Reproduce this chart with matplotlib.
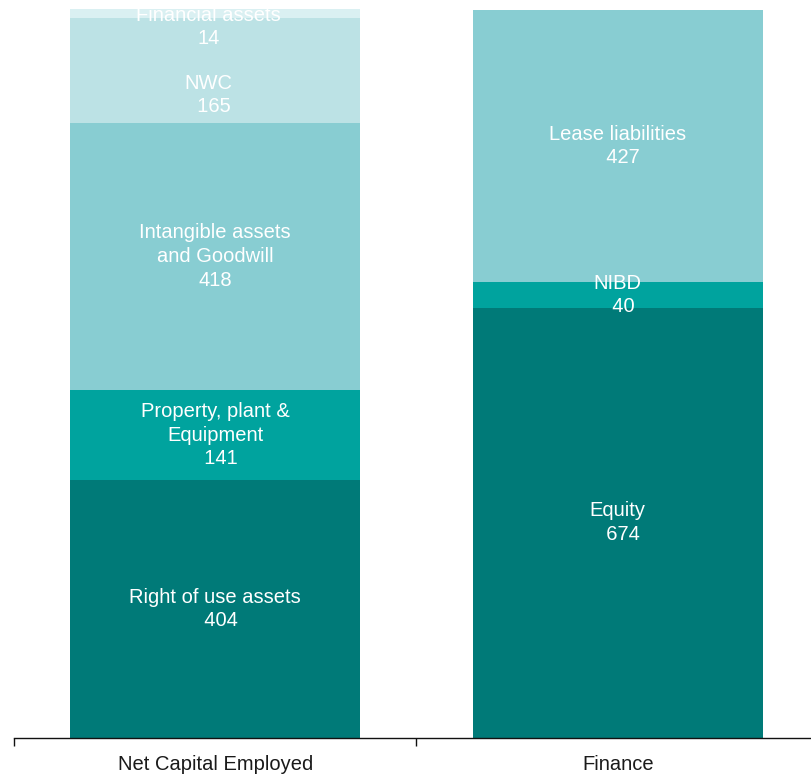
import matplotlib
matplotlib.use("Agg")
import matplotlib.pyplot as plt

plt.rcParams['font.family'] = ['Liberation Sans', 'DejaVu Sans']

categories = ["Net Capital Employed", "Finance"]

nce_labels = ["Right of use assets", "Property, plant &\nEquipment", "Intangible assets\nand Goodwill", "NWC", "Financial assets"]
nce_values = [404, 141, 418, 165, 14]
nce_colors = ["#007a78", "#00a39e", "#88cdd2", "#bce2e5", "#daf0f2"]

fin_labels = ["Equity", "NIBD", "Lease liabilities"]
fin_values = [674, 40, 427]
fin_colors = ["#007a78", "#00a39e", "#88cdd2"]

# label styling: (number prefix spaces, x offset pt, y offset pt)
nce_style = [("  ", 0, 0), ("  ", 0, 0), ("", 0, 0), ("  ", -5, -17.5), ("", -5, -9.8)]
fin_style = [("  ", 0, 0), ("  ", 0, 0), ("  ", 0, 0)]

fig = plt.figure(figsize=(8.12, 7.75), dpi=100)
ax = fig.add_axes([14/812, 37/775, 805/812, 729/775])

width = 0.72
fs = 14.5

def draw(xpos, labels, values, colors, styles):
    bottom = 0
    for lab, val, col, (pre, dx, dy) in zip(labels, values, colors, styles):
        ax.bar(xpos, val, width=width, bottom=bottom, color=col, linewidth=0)
        ax.annotate(f"{lab}\n{pre}{val}", (xpos, bottom + val / 2),
                    xytext=(dx, dy), textcoords="offset points",
                    ha="center", va="center", color="white", fontsize=fs,
                    linespacing=1.32, annotation_clip=False)
        bottom += val

draw(0, nce_labels, nce_values, nce_colors, nce_style)
draw(1, fin_labels, fin_values, fin_colors, fin_style)

ax.set_xlim(-0.5, 1.5)
ax.set_ylim(0, sum(nce_values))
for s in ["top", "right", "left"]:
    ax.spines[s].set_visible(False)
ax.spines["bottom"].set_linewidth(1.0)
ax.spines["bottom"].set_color("#111111")
ax.set_yticks([])
ax.set_xticks([0, 1])
ax.set_xticklabels(categories, fontsize=fs, color="#1a1a1a")
ax.tick_params(axis="x", which="major", length=0, pad=12)
ax.set_xticks([-0.5, 0.5, 1.5], minor=True)
ax.tick_params(axis="x", which="minor", length=6, width=1.0, color="#111111")

fig.savefig("out.png", dpi=100)
